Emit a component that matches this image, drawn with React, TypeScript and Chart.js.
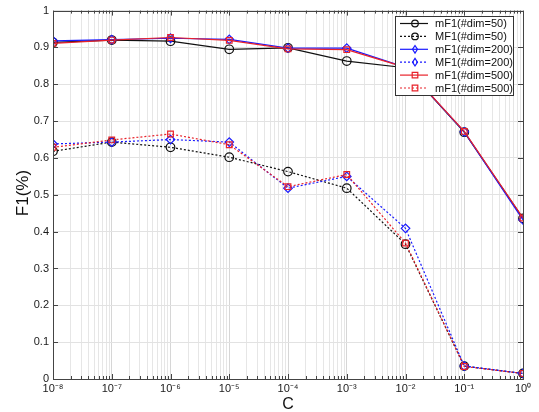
import React, { useEffect, useRef } from "react";
import { Chart, registerables } from "chart.js";

Chart.register(...registerables);

// C values (x axis, logarithmic)
const cValues = [1e-8, 1e-7, 1e-6, 1e-5, 1e-4, 1e-3, 1e-2, 1e-1, 1];
const xTickLabels = ["10⁻⁸", "10⁻⁷", "10⁻⁶", "10⁻⁵", "10⁻⁴", "10⁻³", "10⁻²", "10⁻¹", "10⁰"];
const yTicks = [0, 0.1, 0.2, 0.3, 0.4, 0.5, 0.6, 0.7, 0.8, 0.9, 1];

const seriesLabels = [
  "mF1(#dim=50)",
  "MF1(#dim=50)",
  "mF1(#dim=200)",
  "MF1(#dim=200)",
  "mF1(#dim=500)",
  "mF1(#dim=500)",
];

const mF1_50 = [0.914, 0.92, 0.917, 0.895, 0.899, 0.863, 0.845, 0.67, 0.436];
const MF1_50 = [0.618, 0.643, 0.629, 0.602, 0.563, 0.518, 0.366, 0.035, 0.015];
const mF1_200 = [0.918, 0.921, 0.925, 0.922, 0.898, 0.898, 0.846, 0.671, 0.432];
const MF1_200 = [0.638, 0.643, 0.65, 0.643, 0.518, 0.55, 0.409, 0.035, 0.015];
const mF1_500 = [0.911, 0.92, 0.927, 0.919, 0.896, 0.894, 0.846, 0.672, 0.437];
const MF1_500 = [0.629, 0.649, 0.665, 0.636, 0.522, 0.555, 0.369, 0.034, 0.015];

const BLACK = "#111111";
const BLUE = "#1a1aff";
const RED = "#e8222a";
const FONT = "'Liberation Sans', Arial, sans-serif";

type Style = { color: string; dash: number[]; marker: string };
const styles: Style[] = [
  { color: BLACK, dash: [], marker: "circle" },
  { color: BLACK, dash: [2, 2], marker: "circle" },
  { color: BLUE, dash: [], marker: "rectRot" },
  { color: BLUE, dash: [2, 2], marker: "rectRot" },
  { color: RED, dash: [], marker: "rect" },
  { color: RED, dash: [2, 2], marker: "rect" },
];
const seriesData = [mF1_50, MF1_50, mF1_200, MF1_200, mF1_500, MF1_500];
const drawOrder = [4, 5, 2, 3, 0, 1];

function drawMarker(ctx: CanvasRenderingContext2D, kind: string, x: number, y: number, r: number) {
  ctx.beginPath();
  if (kind === "circle") {
    ctx.arc(x, y, r, 0, Math.PI * 2);
  } else if (kind === "rectRot") {
    ctx.moveTo(x, y - r * 1.15);
    ctx.lineTo(x + r * 0.75, y);
    ctx.lineTo(x, y + r * 1.15);
    ctx.lineTo(x - r * 0.75, y);
    ctx.closePath();
  } else {
    ctx.rect(x - r * 0.85, y - r * 0.85, r * 1.7, r * 1.7);
  }
  ctx.stroke();
}

const matlabPlugin = {
  id: "matlabDecor",
  afterDatasetsDraw(chart: any) {
    const ctx: CanvasRenderingContext2D = chart.ctx;
    const { left, right, top, bottom } = chart.chartArea;
    const xs = chart.scales.x;
    const ys = chart.scales.y;
    ctx.save();
    // box
    ctx.strokeStyle = "#444444";
    ctx.lineWidth = 1;
    ctx.setLineDash([]);
    ctx.strokeRect(Math.round(left) + 0.5, Math.round(top) + 0.5, Math.round(right - left), Math.round(bottom - top));
    // inward ticks
    ctx.beginPath();
    for (let e = -8; e <= 0; e++) {
      for (let k = 1; k <= 9; k++) {
        const v = k * Math.pow(10, e);
        if (v > 1.0000001) break;
        const px = Math.round(xs.getPixelForValue(v)) + 0.5;
        const len = k === 1 ? 5 : 3;
        ctx.moveTo(px, bottom);
        ctx.lineTo(px, bottom - len);
        ctx.moveTo(px, top);
        ctx.lineTo(px, top + len);
      }
    }
    for (const t of yTicks) {
      const py = Math.round(ys.getPixelForValue(t)) + 0.5;
      ctx.moveTo(left, py);
      ctx.lineTo(left + 5, py);
      ctx.moveTo(right, py);
      ctx.lineTo(right - 5, py);
    }
    ctx.stroke();

    // legend
    const lx = 395, ly = 16, lw = 118, lh = 79;
    ctx.fillStyle = "#ffffff";
    ctx.fillRect(lx, ly, lw, lh);
    ctx.strokeStyle = "#333333";
    ctx.strokeRect(lx + 0.5, ly + 0.5, lw, lh);
    ctx.font = "11px " + FONT;
    ctx.textBaseline = "middle";
    ctx.textAlign = "left";
    for (let i = 0; i < seriesLabels.length; i++) {
      const st = styles[i];
      const ry = ly + 7.5 + i * 12.9;
      ctx.strokeStyle = st.color;
      ctx.lineWidth = 1.2;
      ctx.setLineDash(st.dash);
      ctx.beginPath();
      ctx.moveTo(400, ry);
      ctx.lineTo(428, ry);
      ctx.stroke();
      ctx.setLineDash([]);
      drawMarker(ctx, st.marker, 415, ry, 3.3);
      ctx.fillStyle = "#111111";
      ctx.fillText(seriesLabels[i], 435, ry + 0.5);
    }

    // axis titles
    ctx.fillStyle = "#111111";
    ctx.font = "16px " + FONT;
    ctx.textAlign = "center";
    ctx.textBaseline = "middle";
    ctx.fillText("C", (left + right) / 2, 405);
    ctx.save();
    ctx.translate(23, 193);
    ctx.rotate(-Math.PI / 2);
    ctx.font = "17px " + FONT;
    ctx.fillText("F1(%)", 0, 0);
    ctx.restore();
    ctx.restore();
  },
};

export default function App() {
  const ref = useRef<HTMLCanvasElement | null>(null);
  useEffect(() => {
    document.body.style.margin = "0";
    const canvas = ref.current;
    if (!canvas) return;
    const datasets = drawOrder.map((i, order) => ({
      label: seriesLabels[i],
      data: cValues.map((c, j) => ({ x: c, y: seriesData[i][j] })),
      borderColor: styles[i].color,
      borderWidth: 1.2,
      borderDash: styles[i].dash,
      pointStyle: styles[i].marker,
      pointRadius: styles[i].marker === "rect" ? 4 : 4.3,
      pointBorderColor: styles[i].color,
      pointBackgroundColor: "rgba(0,0,0,0)",
      pointBorderWidth: 1.2,
      fill: false,
      tension: 0,
      order,
    }));
    const chart = new Chart(canvas, {
      type: "line",
      data: { datasets },
      plugins: [matlabPlugin],
      options: {
        responsive: false,
        animation: false,
        events: [],
        layout: { padding: { top: 8, right: 16, left: 0, bottom: 0 } },
        plugins: { legend: { display: false }, tooltip: { enabled: false } },
        scales: {
          x: {
            type: "logarithmic",
            min: 1e-8,
            max: 1,
            afterBuildTicks(scale: any) {
              const ticks: any[] = [];
              for (let e = -8; e <= 0; e++) {
                for (let k = 1; k <= 9; k++) {
                  const v = k * Math.pow(10, e);
                  if (e === 0 && k > 1) break;
                  ticks.push({ value: v, major: k === 1 });
                }
              }
              scale.ticks = ticks;
            },
            afterFit(scale: any) {
              scale.height = 33;
            },
            grid: {
              drawTicks: false,
              color: (c: any) => (c.tick && c.tick.major ? "#d6d6d6" : "#e6e6e6"),
              lineWidth: 1,
            },
            border: { display: false },
            ticks: {
              autoSkip: false,
              maxRotation: 0,
              padding: 3,
              color: "#1a1a1a",
              font: { size: 11, family: FONT },
              callback(value: any) {
                const v = Number(value);
                const e = Math.round(Math.log10(v));
                if (Math.abs(v - Math.pow(10, e)) < 1e-12 * Math.pow(10, e) + 1e-20) {
                  return xTickLabels[e + 8];
                }
                return "";
              },
            },
          },
          y: {
            type: "linear",
            min: 0,
            max: 1,
            afterBuildTicks(scale: any) {
              scale.ticks = yTicks.map((v) => ({ value: v }));
            },
            afterFit(scale: any) {
              scale.width = 53;
            },
            grid: { drawTicks: false, color: "#e2e2e2", lineWidth: 1 },
            border: { display: false },
            ticks: {
              padding: 4,
              color: "#1a1a1a",
              font: { size: 11, family: FONT },
              callback(value: any) {
                const v = Number(value);
                if (v === 0) return "0";
                if (v === 1) return "1";
                return v.toFixed(1);
              },
            },
          },
        },
      },
    });
    return () => chart.destroy();
  }, []);
  return (
    <div style={{ position: "absolute", left: 0, top: 0, width: 539, height: 412 }}>
      <canvas ref={ref} width={539} height={412} style={{ width: 539, height: 412, display: "block" }} />
    </div>
  );
}
